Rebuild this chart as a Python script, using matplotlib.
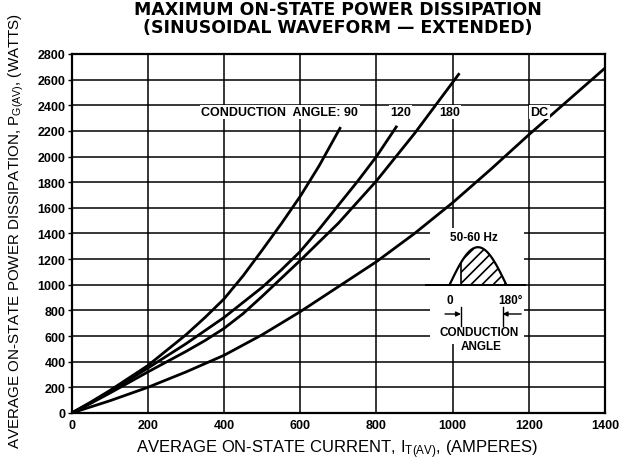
import numpy as np
import matplotlib
matplotlib.use('Agg')
import matplotlib.pyplot as plt
from matplotlib.patches import Rectangle

plt.rcParams['font.family'] = ['Liberation Sans', 'DejaVu Sans']
plt.rcParams['mathtext.default'] = 'regular'
plt.rcParams['hatch.linewidth'] = 1.2

# curves: average current (A) vs power (W)
i_90 = [0, 50, 100, 200, 300, 350, 400, 450, 500, 550, 600, 650, 706]
p_90 = [0, 85, 175, 370, 610, 745, 890, 1070, 1270, 1475, 1690, 1930, 2230]

i_120 = [0, 50, 100, 200, 300, 400, 500, 550, 600, 650, 700, 750, 800, 854]
p_120 = [0, 80, 165, 350, 540, 745, 980, 1115, 1260, 1435, 1620, 1805, 2000, 2240]

i_180 = [0, 50, 100, 200, 300, 350, 400, 450, 500, 600, 700, 800, 900, 1018]
p_180 = [0, 75, 155, 320, 480, 565, 660, 775, 910, 1190, 1480, 1810, 2180, 2650]

i_dc = [0, 100, 200, 300, 400, 500, 600, 700, 800, 900, 1000, 1100, 1200, 1300, 1400]
p_dc = [0, 95, 200, 320, 450, 610, 790, 985, 1180, 1400, 1640, 1900, 2170, 2430, 2690]

curves = [(i_90, p_90), (i_120, p_120), (i_180, p_180), (i_dc, p_dc)]

x_ticks = list(range(0, 1401, 200))
y_ticks = list(range(0, 2801, 200))

fig = plt.figure(figsize=(6.25, 4.64), dpi=100)
ax = fig.add_axes([0.1147, 0.1078, 0.8533, 0.7737])

ax.set_xlim(0, 1400)
ax.set_ylim(0, 2800)
ax.set_xticks(x_ticks)
ax.set_yticks(y_ticks)
ax.set_axisbelow(True)
ax.grid(True, color='black', linewidth=1.1)
for s in ax.spines.values():
    s.set_linewidth(1.6)

ax.tick_params(axis='y', length=3, width=1, pad=1.5, labelsize=9)
ax.tick_params(axis='x', length=0, pad=4, labelsize=9)
for lab in ax.get_xticklabels() + ax.get_yticklabels():
    lab.set_fontweight('bold')

for xs, ys in curves:
    ax.plot(xs, ys, color='black', linewidth=2.0, zorder=3, solid_capstyle='butt')

# curve labels
lab_kw = dict(fontsize=9, fontweight='bold', va='center', zorder=4,
              bbox=dict(facecolor='white', edgecolor='none', pad=1.0))
ax.text(752, 2348, 'CONDUCTION  ANGLE: 90', ha='right', **lab_kw)
ax.text(863, 2348, '120', ha='center', **lab_kw)
ax.text(991, 2348, '180', ha='center', **lab_kw)
ax.text(1227, 2348, 'DC', ha='center', **lab_kw)

# waveform inset
ax.add_patch(Rectangle((940, 540), 248, 900, facecolor='white', edgecolor='none', zorder=1))
ax.plot([930, 1190], [1000, 1000], color='black', linewidth=1.4, zorder=2)

th = np.linspace(0, np.pi, 80)
hx = 992 + 149 * th / np.pi
hy = 1000 + 293 * np.sin(th)
ax.plot(hx, hy, color='black', linewidth=1.6, zorder=3)
cut = hx >= 1022
ax.fill_between(hx[cut], 1000, hy[cut], facecolor='none', edgecolor='black',
                hatch='///', linewidth=0, zorder=2)
ax.plot([1022, 1022], [1000, np.interp(1022, hx, hy)], color='black', linewidth=1.2, zorder=3)

small = dict(fontsize=8.5, fontweight='bold', ha='center', va='center', zorder=4)
ax.text(1057, 1373, '50-60 Hz', **small)
ax.text(992, 885, '0', **small)
ax.text(1152, 885, '180°', **small)
ax.text(1070, 632, 'CONDUCTION', **small)
ax.text(1075, 522, 'ANGLE', **small)

ax.plot([1022, 1022], [680, 830], color='black', linewidth=1.0, zorder=3)
ax.plot([1131, 1131], [680, 830], color='black', linewidth=1.0, zorder=3)
ax.annotate('', xy=(1022, 772), xytext=(980, 772),
            arrowprops=dict(arrowstyle='-|>', lw=1.0, color='black', mutation_scale=7,
                            shrinkA=0, shrinkB=0), zorder=3)
ax.annotate('', xy=(1131, 772), xytext=(1180, 772),
            arrowprops=dict(arrowstyle='-|>', lw=1.0, color='black', mutation_scale=7,
                            shrinkA=0, shrinkB=0), zorder=3)

fig.text(0.54, 0.997, 'MAXIMUM ON-STATE POWER DISSIPATION\n(SINUSOIDAL WAVEFORM — EXTENDED)',
         ha='center', va='top', fontsize=12.5, fontweight='bold', linespacing=1.0,
         family='DejaVu Sans')
fig.text(0.539, 0.031, 'AVERAGE ON-STATE CURRENT, I$_{T(AV)}$, (AMPERES)',
         ha='center', va='center', fontsize=12)
fig.text(0.026, 0.502, 'AVERAGE ON-STATE POWER DISSIPATION, P$_{G(AV)}$, (WATTS)',
         ha='center', va='center', rotation=90, fontsize=10.9)

fig.savefig('out.png', dpi=100)
